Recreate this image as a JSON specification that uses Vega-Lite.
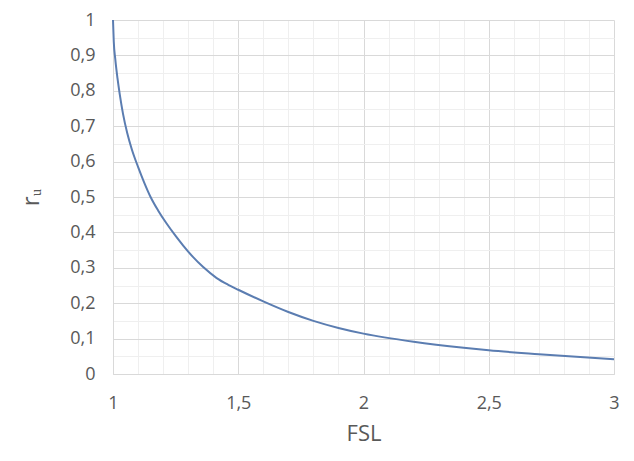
{
  "$schema": "https://vega.github.io/schema/vega-lite/v6.json",
  "width": 501,
  "height": 354,
  "autosize": "none",
  "padding": {"left": 113, "top": 20, "right": 20, "bottom": 87},
  "background": "white",
  "config": {
    "view": {"stroke": null},
    "font": "Open Sans"
  },
  "data": {
    "values": [
      {"FSL": 1.0, "ru": 1.0},
      {"FSL": 1.003, "ru": 0.94},
      {"FSL": 1.009, "ru": 0.89},
      {"FSL": 1.018, "ru": 0.835},
      {"FSL": 1.027, "ru": 0.79},
      {"FSL": 1.04, "ru": 0.735},
      {"FSL": 1.057, "ru": 0.68},
      {"FSL": 1.075, "ru": 0.635},
      {"FSL": 1.1, "ru": 0.585},
      {"FSL": 1.125, "ru": 0.54},
      {"FSL": 1.15, "ru": 0.5},
      {"FSL": 1.18, "ru": 0.462},
      {"FSL": 1.214, "ru": 0.425},
      {"FSL": 1.25, "ru": 0.39},
      {"FSL": 1.281, "ru": 0.362},
      {"FSL": 1.32, "ru": 0.33},
      {"FSL": 1.36, "ru": 0.302},
      {"FSL": 1.414, "ru": 0.271},
      {"FSL": 1.46, "ru": 0.252},
      {"FSL": 1.5, "ru": 0.238},
      {"FSL": 1.6, "ru": 0.205},
      {"FSL": 1.7, "ru": 0.175},
      {"FSL": 1.8, "ru": 0.15},
      {"FSL": 1.9, "ru": 0.13},
      {"FSL": 2.0, "ru": 0.114},
      {"FSL": 2.2, "ru": 0.091},
      {"FSL": 2.4, "ru": 0.074},
      {"FSL": 2.5, "ru": 0.067},
      {"FSL": 2.7, "ru": 0.056},
      {"FSL": 2.85, "ru": 0.0485},
      {"FSL": 3.0, "ru": 0.0415}
    ]
  },
  "mark": {"type": "line", "color": "#5b7db1", "strokeWidth": 2, "interpolate": "monotone"},
  "encoding": {
    "x": {
      "field": "FSL",
      "type": "quantitative",
      "scale": {"domain": [1, 3], "nice": false, "zero": false},
      "axis": {
        "title": "FSL",
        "values": [1, 1.1, 1.2, 1.3, 1.4, 1.5, 1.6, 1.7, 1.8, 1.9, 2, 2.1, 2.2, 2.3, 2.4, 2.5, 2.6, 2.7, 2.8, 2.9, 3],
        "labelExpr": "abs(round(datum.value*10) % 5) == 0 ? replace(format(datum.value, '~g'), '.', ',') : ''",
        "grid": true,
        "gridColor": {"condition": {"test": "abs(round(datum.value*10) % 5) == 0", "value": "#d9d9d9"}, "value": "#efefef"},
        "gridWidth": 1,
        "ticks": false,
        "domain": true,
        "domainColor": "#d9d9d9",
        "labelColor": "#595959",
        "labelFontSize": 18,
        "labelPadding": 20,
        "labelFlush": false,
        "labelOverlap": false,
        "titleColor": "#595959",
        "titleFontSize": 22,
        "titleFontWeight": "normal",
        "titlePadding": 11
      }
    },
    "y": {
      "field": "ru",
      "type": "quantitative",
      "scale": {"domain": [0, 1], "nice": false},
      "axis": {
        "title": "rᵤ",
        "values": [0, 0.05, 0.1, 0.15, 0.2, 0.25, 0.3, 0.35, 0.4, 0.45, 0.5, 0.55, 0.6, 0.65, 0.7, 0.75, 0.8, 0.85, 0.9, 0.95, 1],
        "labelExpr": "abs(round(datum.value*20) % 2) == 0 ? replace(format(datum.value, '~g'), '.', ',') : ''",
        "grid": true,
        "gridColor": {"condition": {"test": "abs(round(datum.value*20) % 2) == 0", "value": "#d9d9d9"}, "value": "#efefef"},
        "gridWidth": 1,
        "ticks": false,
        "domain": true,
        "domainColor": "#d9d9d9",
        "labelColor": "#595959",
        "labelFontSize": 18,
        "labelPadding": 18,
        "labelFlush": false,
        "labelOverlap": false,
        "titleColor": "#595959",
        "titleFontSize": 24,
        "titleFontWeight": "normal",
        "titlePadding": 26
      }
    }
  }
}
